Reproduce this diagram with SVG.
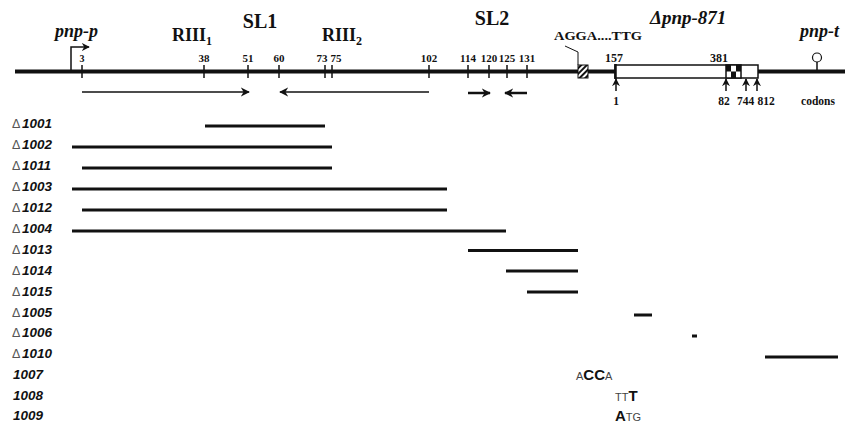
<svg xmlns="http://www.w3.org/2000/svg" width="845" height="424" viewBox="0 0 845 424">
<style>
.ser{font-family:"Liberation Serif","Times New Roman",serif;font-weight:bold;fill:#111}
.num{font-family:"Liberation Serif","Times New Roman",serif;font-weight:bold;font-size:11px;fill:#111;text-anchor:middle}
.it{font-style:italic}
.lab{font-family:"Liberation Sans",Arial,sans-serif;font-weight:bold;font-style:italic;font-size:13.5px;fill:#111}
.dl{font-family:"Liberation Sans",Arial,sans-serif;font-weight:normal;font-style:normal;font-size:12.5px;fill:#555}
.tick{stroke:#111;stroke-width:1.5}
.bar{stroke:#111;stroke-width:3}
.arr{stroke:#111;stroke-width:1.5;fill:none}
.arr2{stroke:#111;stroke-width:2.5;fill:none}
.seqs{font-family:"Liberation Sans",Arial,sans-serif;font-size:11px;fill:#444}
.seqb{font-family:"Liberation Sans",Arial,sans-serif;font-size:15px;font-weight:bold;fill:#111}
</style>
<defs>
<marker id="ah" viewBox="0 0 10 10" refX="9" refY="5" markerUnits="userSpaceOnUse" markerWidth="9" markerHeight="10" orient="auto">
<path d="M0,0 L10,5 L0,10 L3,5 z" fill="#111"/>
</marker>
<marker id="ahs" viewBox="0 0 10 10" refX="9" refY="5" markerUnits="userSpaceOnUse" markerWidth="8" markerHeight="8" orient="auto">
<path d="M0,0 L10,5 L0,10 L3,5 z" fill="#111"/>
</marker>
<pattern id="hatch" patternUnits="userSpaceOnUse" width="4" height="4" patternTransform="rotate(45)">
<rect width="4" height="4" fill="#fff"/>
<rect width="2" height="4" fill="#111"/>
</pattern>
</defs>
<rect width="845" height="424" fill="#fff"/>

<g id="map">
<line x1="15" y1="71.5" x2="845" y2="71.5" stroke="#111" stroke-width="4"/>
<g id="ticks">
<line class="tick" x1="82" y1="65" x2="82" y2="78"/>
<line class="tick" x1="204" y1="65" x2="204" y2="78"/>
<line class="tick" x1="248" y1="65" x2="248" y2="78"/>
<line class="tick" x1="279" y1="65" x2="279" y2="78"/>
<line class="tick" x1="325" y1="65" x2="325" y2="78"/>
<line class="tick" x1="332" y1="65" x2="332" y2="78"/>
<line class="tick" x1="429" y1="65" x2="429" y2="78"/>
<line class="tick" x1="468" y1="65" x2="468" y2="78"/>
<line class="tick" x1="489" y1="65" x2="489" y2="78"/>
<line class="tick" x1="507" y1="65" x2="507" y2="78"/>
<line class="tick" x1="527" y1="65" x2="527" y2="78"/>
</g>
<g id="ticklabels">
<text class="num" x="82" y="62" style="font-size:10px">3</text>
<text class="num" x="204" y="62">38</text>
<text class="num" x="248" y="62">51</text>
<text class="num" x="279" y="62">60</text>
<text class="num" x="322" y="62">73</text>
<text class="num" x="336" y="62">75</text>
<text class="num" x="429" y="62">102</text>
<text class="num" x="468" y="62">114</text>
<text class="num" x="489" y="62">120</text>
<text class="num" x="507" y="62">125</text>
<text class="num" x="527" y="62">131</text>
<text class="num" x="614" y="62" style="font-size:12px">157</text>
<text class="num" x="719" y="62" style="font-size:12px">381</text>
</g>
</g>

<g id="promoter">
<polyline class="arr" points="71,71 71,47 89,47" marker-end="url(#ahs)"/>
<text class="ser it" x="55" y="37" style="font-size:18px">pnp-p</text>
</g>

<g id="riii1"><text class="ser" x="172" y="41" style="font-size:18px">RIII<tspan font-size="12" dy="4">1</tspan></text></g>
<g id="sl1"><text class="ser" x="260" y="28" text-anchor="middle" style="font-size:20px">SL1</text></g>
<g id="riii2"><text class="ser" x="322" y="41" style="font-size:18px">RIII<tspan font-size="12" dy="4">2</tspan></text></g>
<g id="sl2"><text class="ser" x="492" y="25" text-anchor="middle" style="font-size:20px">SL2</text></g>

<g id="sd">
<polyline points="565,46 578,52 578,65" fill="none" stroke="#111" stroke-width="1"/>
<rect x="578" y="65" width="10" height="13" fill="url(#hatch)" stroke="#111" stroke-width="1"/>
<text class="ser" x="554" y="40" style="font-size:13px" textLength="88" lengthAdjust="spacingAndGlyphs">AGGA....TTG</text>
</g>

<g id="gene">
<rect x="615" y="65" width="143" height="13" fill="#fff" stroke="#111" stroke-width="1.5"/>
<line x1="615.5" y1="64" x2="615.5" y2="79" stroke="#111" stroke-width="2.5"/>
<g id="checker">
<rect x="726" y="65" width="15" height="13" fill="#fff" stroke="#111" stroke-width="1.5"/>
<rect x="726" y="65" width="5" height="6.5" fill="#111"/>
<rect x="736" y="65" width="5" height="6.5" fill="#111"/>
<rect x="731" y="71.5" width="5" height="6.5" fill="#111"/>
</g>
<text class="ser it" x="650" y="24" style="font-size:19px">Δpnp-871</text>
</g>

<g id="terminator">
<line x1="817" y1="62" x2="817" y2="71" stroke="#111" stroke-width="1.5"/>
<circle cx="817" cy="57.5" r="4.5" fill="#fff" stroke="#111" stroke-width="1.2"/>
<text class="ser it" x="800" y="37" style="font-size:18px">pnp-t</text>
</g>

<g id="codons">
<line class="arr" x1="616" y1="91" x2="616" y2="79" marker-end="url(#ahs)"/>
<line class="arr" x1="726" y1="91" x2="726" y2="79" marker-end="url(#ahs)"/>
<line class="arr" x1="746" y1="91" x2="746" y2="79" marker-end="url(#ahs)"/>
<line class="arr" x1="757" y1="91" x2="757" y2="79" marker-end="url(#ahs)"/>
<text class="num" x="616" y="105" style="font-size:11.5px">1</text>
<text class="num" x="724" y="105" style="font-size:11.5px">82</text>
<text class="num" x="745.5" y="105" style="font-size:11.5px">744</text>
<text class="num" x="766" y="105" style="font-size:11.5px">812</text>
<text class="num" x="818" y="105" style="font-size:11.5px">codons</text>
</g>

<g id="connectors">
<line class="arr" x1="82" y1="92" x2="249" y2="92" marker-end="url(#ah)"/>
<line class="arr" x1="429" y1="92" x2="280" y2="92" marker-end="url(#ah)"/>
<line class="arr2" x1="468" y1="93" x2="490" y2="93" marker-end="url(#ah)"/>
<line class="arr2" x1="527" y1="93" x2="505" y2="93" marker-end="url(#ah)"/>
</g>

<g id="deletions">
<g id="d1001"><text class="lab" x="12" y="128"><tspan class="dl">Δ</tspan><tspan x="22">1001</tspan></text><line class="bar" x1="205" y1="126" x2="325" y2="126"/></g>
<g id="d1002"><text class="lab" x="12" y="149"><tspan class="dl">Δ</tspan><tspan x="22">1002</tspan></text><line class="bar" x1="72" y1="147" x2="332" y2="147"/></g>
<g id="d1011"><text class="lab" x="12" y="170"><tspan class="dl">Δ</tspan><tspan x="22">1011</tspan></text><line class="bar" x1="82" y1="168" x2="332" y2="168"/></g>
<g id="d1003"><text class="lab" x="12" y="191"><tspan class="dl">Δ</tspan><tspan x="22">1003</tspan></text><line class="bar" x1="72" y1="189" x2="447" y2="189"/></g>
<g id="d1012"><text class="lab" x="12" y="212"><tspan class="dl">Δ</tspan><tspan x="22">1012</tspan></text><line class="bar" x1="82" y1="210" x2="447" y2="210"/></g>
<g id="d1004"><text class="lab" x="12" y="233"><tspan class="dl">Δ</tspan><tspan x="22">1004</tspan></text><line class="bar" x1="72" y1="231" x2="506" y2="231"/></g>
<g id="d1013"><text class="lab" x="12" y="254"><tspan class="dl">Δ</tspan><tspan x="22">1013</tspan></text><line class="bar" x1="468" y1="250.5" x2="578" y2="250.5"/></g>
<g id="d1014"><text class="lab" x="12" y="275"><tspan class="dl">Δ</tspan><tspan x="22">1014</tspan></text><line class="bar" x1="506" y1="271" x2="578" y2="271"/></g>
<g id="d1015"><text class="lab" x="12" y="296"><tspan class="dl">Δ</tspan><tspan x="22">1015</tspan></text><line class="bar" x1="527" y1="292" x2="578" y2="292"/></g>
<g id="d1005"><text class="lab" x="12" y="317"><tspan class="dl">Δ</tspan><tspan x="22">1005</tspan></text><line class="bar" x1="634" y1="315" x2="652" y2="315"/></g>
<g id="d1006"><text class="lab" x="12" y="337"><tspan class="dl">Δ</tspan><tspan x="22">1006</tspan></text><line class="bar" x1="692" y1="336" x2="697" y2="336"/></g>
<g id="d1010"><text class="lab" x="12" y="358"><tspan class="dl">Δ</tspan><tspan x="22">1010</tspan></text><line class="bar" x1="765" y1="357" x2="838" y2="357"/></g>
<g id="m1007"><text class="lab" x="13" y="379">1007</text><text x="576" y="380"><tspan class="seqs">A</tspan><tspan class="seqb">CC</tspan><tspan class="seqs">A</tspan></text></g>
<g id="m1008"><text class="lab" x="13" y="400">1008</text><text x="615" y="401"><tspan class="seqs">TT</tspan><tspan class="seqb">T</tspan></text></g>
<g id="m1009"><text class="lab" x="13" y="420">1009</text><text x="615" y="421"><tspan class="seqb">A</tspan><tspan class="seqs">TG</tspan></text></g>
</g>
</svg>
